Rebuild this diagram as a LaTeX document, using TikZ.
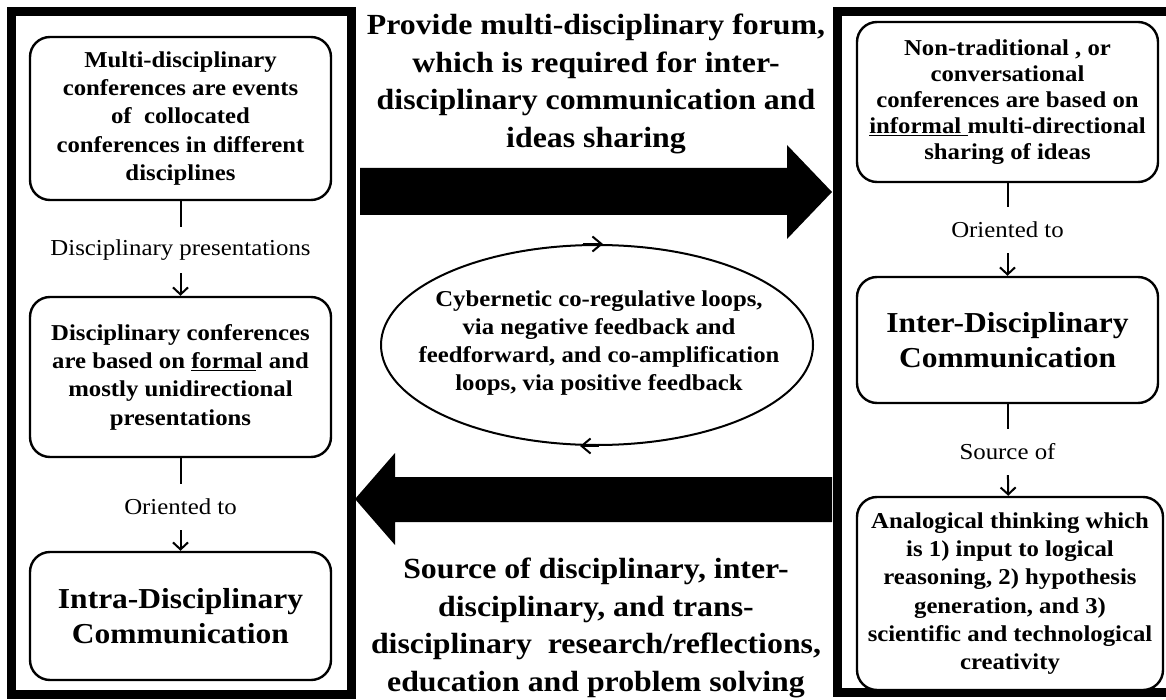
\documentclass[tikz,border=0pt]{standalone}
\usepackage{fontspec}
\setmainfont{Liberation Serif}[FakeStretch=1.09]
\usetikzlibrary{arrows.meta,shapes.geometric}
\newcommand\dgBox{\bfseries\fontsize{22.7pt}{28.3pt}\selectfont}
\newcommand\dgBoxR{\bfseries\fontsize{22.7pt}{26pt}\selectfont}
\newcommand\dgBig{\bfseries\fontsize{28.9pt}{35pt}\selectfont}
\newcommand\dgTitle{\bfseries\fontsize{29.2pt}{37.5pt}\selectfont}
\newcommand\dgEll{\bfseries\fontsize{22.7pt}{28pt}\selectfont}
\newcommand\dgLab{\fontsize{22.8pt}{27pt}\selectfont}
\begin{document}
\begin{tikzpicture}[x=1pt,y=-1pt,
  frame/.style={draw, line width=9pt, inner sep=0pt},
  box/.style={draw, line width=2.4pt, rounded corners=20pt, fill=white, align=center, inner sep=0pt, font=\dgBox},
  lab/.style={font=\dgLab, inner sep=0pt, minimum height=46pt},
  conn/.style={line width=2pt},
  arr/.style={line width=2pt, -{Straight Barb[length=7pt,width=15pt]}},
  loopar/.style={line width=2pt, -{Straight Barb[length=9pt,width=15pt]}},
  bigarrow/.style={fill=black},
  caption/.style={font=\dgTitle, align=center, inner sep=0pt}
]
\useasboundingbox (0,0) rectangle (1166,700);
\clip (0,0) rectangle (1166,700);
\fill[white] (0,0) rectangle (1166,700);

% frames
\node[frame, minimum width=339.5pt, minimum height=683pt] (lframe) at (181.25,353) {};
\node[frame, minimum width=338pt, minimum height=680.5pt] (rframe) at (1006,351.75) {};

% left column
\node[box, minimum width=301pt, minimum height=163pt] (l1) at (180.5,118.5)
  {Multi-disciplinary\\ conferences are events\\ of\ \ collocated\\ conferences in different\\ disciplines};
\node[lab] (la) at (180.5,250) {Disciplinary presentations};
\node[box, minimum width=301pt, minimum height=160pt] (l2) at (180.5,377)
  {Disciplinary conferences\\ are based on \underline{forma}l and\\ mostly unidirectional\\ presentations};
\node[lab] (lb) at (180.5,507) {Oriented to};
\node[box, font=\dgBig, minimum width=301pt, minimum height=128pt] (l3) at (180.5,616)
  {Intra-Disciplinary\\ Communication};

% right column
\node[box, font=\dgBoxR, minimum width=301pt, minimum height=160pt] (r1) at (1007.5,102)
  {Non-traditional , or\\ conversational\\ conferences are based on\\ \underline{informal\ }multi-directional\\ sharing of ideas};
\node[lab] (ra) at (1007.5,230) {Oriented to};
\node[box, font=\dgBig, minimum width=301pt, minimum height=126pt] (r2) at (1007.5,340)
  {Inter-Disciplinary\\ Communication};
\node[lab] (rb) at (1007.5,452) {Source of};
\node[box, minimum width=306pt, minimum height=193pt] (r3) at (1010,593.5)
  {Analogical thinking which\\ is 1) input to logical\\ reasoning, 2) hypothesis\\ generation, and 3)\\ scientific and technological\\ creativity};

% connectors
\draw[conn] (l1) -- (la);
\draw[arr] (la) -- (l2);
\draw[conn] (l2) -- (lb);
\draw[arr] (lb) -- (l3);
\draw[conn] (r1) -- (ra);
\draw[arr] (ra) -- (r2);
\draw[conn] (r2) -- (rb);
\draw[arr] (rb) -- (r3);

% big arrows
\fill[bigarrow] (360,168) -- (787,168) -- (787,145) -- (832,192) -- (787,239) -- (787,215) -- (360,215) -- cycle;
\fill[bigarrow] (832,477) -- (395,477) -- (395,453) -- (355,499) -- (395,545) -- (395,522) -- (832,522) -- cycle;

% captions
\node[caption] (top) at (596,84)
  {Provide multi-disciplinary forum,\\ which is required for inter-\\ disciplinary communication and\\ ideas sharing};
\node[caption] (bottom) at (596,628)
  {Source of disciplinary, inter-\\ disciplinary, and trans-\\ disciplinary\ \ research/reflections,\\ education and problem solving};

% loop ellipse
\node[draw, ellipse, line width=2pt, minimum width=432pt, minimum height=200pt, inner sep=0pt] (loop) at (597,345) {};
\node[font=\dgEll, align=center, inner sep=0pt] (looptext) at (599,343)
  {Cybernetic co-regulative loops,\\ via negative feedback and\\ feedforward, and co-amplification\\ loops, via positive feedback};
\draw[loopar] ([xshift=-14pt]loop.north) -- ([xshift=6pt]loop.north);
\draw[loopar] ([xshift=2pt]loop.south) -- ([xshift=-17pt]loop.south);
\end{tikzpicture}
\end{document}
